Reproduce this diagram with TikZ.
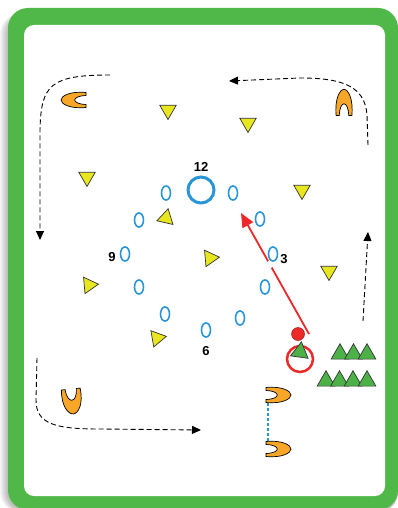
\documentclass[tikz,border=0pt]{standalone}
\usepackage{fontspec}
\setmainfont{Liberation Sans}
\usetikzlibrary{shapes.geometric,arrows.meta,calc}
\definecolor{frameG}{RGB}{80,184,72}
\definecolor{triY}{RGB}{232,230,30}
\definecolor{triG}{RGB}{76,178,72}
\definecolor{coneO}{RGB}{247,166,40}
\definecolor{ringB}{RGB}{40,150,214}
\definecolor{redR}{RGB}{236,40,40}
\tikzset{
  ytri/.style={regular polygon,regular polygon sides=3,draw=black!80,line width=0.7pt,fill=triY,minimum size=19pt,inner sep=0pt},
  gtri/.style={regular polygon,regular polygon sides=3,draw=black!80,line width=0.7pt,fill=triG,minimum size=20.5pt,inner sep=0pt},
  ring/.style={ellipse,draw=ringB,line width=1.6pt,minimum width=9pt,minimum height=14pt,inner sep=0pt},
  bigring/.style={circle,draw=ringB,line width=3pt,minimum size=26pt,inner sep=0pt},
  num/.style={font=\fontsize{13}{13}\selectfont\bfseries,inner sep=0pt},
  runpath/.style={draw=black,line width=0.9pt,dash pattern=on 5pt off 3pt,-{Triangle[length=9pt,width=8pt]}},
  pass/.style={draw=redR,line width=1.8pt,-{Triangle[length=14pt,width=12pt]}},
  link/.style={draw=ringB,line width=2.5pt,dash pattern=on 2.5pt off 2.5pt},
  shoe/.pic={\path[fill=coneO,draw=black,line width=0.7pt]
     (-12,-7.5) .. controls (4,-9) and (13,-4) .. (13,0) .. controls (13,4) and (4,9) .. (-12,7.5)
     -- (-12,4.5) .. controls (3,4) and (3,-4) .. (-12,-4.5) -- cycle;}
}
\begin{document}
\begin{tikzpicture}[x=1pt,y=-1pt]
\useasboundingbox (0,0) rectangle (398,508);
\clip (0,0) rectangle (398,508);
% shadow
\foreach \i in {1,...,8}{
  \fill[black,opacity=0.035,rounded corners=20pt] (8-\i,14) rectangle (398,512);
}
% frame
\fill[frameG,rounded corners=20pt] (8,8) rectangle (398,510);
\fill[white,rounded corners=10pt] (24,25) rectangle (385,496);

% rings
\node[num] (t12) at (201,167) {12};
\node[bigring] (r12) at (201,190) {};
\node[ring] (r1) at (233,193) {};
\node[ring] (r2) at (260,219) {};
\node[ring] (r3) at (273,254) {};
\node[ring] (r4) at (265,287) {};
\node[ring] (r5) at (240,318) {};
\node[ring] (r6) at (206,330) {};
\node[ring] (r7) at (165,314) {};
\node[ring] (r8) at (139,287) {};
\node[ring] (r9) at (125,254) {};
\node[ring] (r10) at (139,220) {};
\node[ring] (r11) at (166,193) {};
\node[num] (t9) at (112,257) {9};
\node[num] (t3) at (284,259) {3};
\node[num] (t6) at (206,351) {6};

% yellow triangles
\node[ytri,shape border rotate=180] (y1) at (168,110) {};
\node[ytri,shape border rotate=180] (y2) at (248,123) {};
\node[ytri,shape border rotate=180] (y3) at (87,177) {};
\node[ytri,shape border rotate=180] (y4) at (302,190) {};
\node[ytri,shape border rotate=180] (y5) at (329,271) {};
\node[ytri,rotate=-13] (y6) at (166,218) {};
\node[ytri,rotate=-85] (y7) at (210,258) {};
\node[ytri,rotate=-85] (y8) at (89,285) {};
\node[ytri,rotate=-80] (y9) at (157,338) {};

% cones
\pic (c1) at (74,100) [rotate=180] {shoe};
\pic (c2) at (344,103) [rotate=90,scale=1.05] {shoe};
\pic (c3) at (72,401) [rotate=-84,yscale=1.25] {shoe};
\pic (c4) at (278,395) {shoe};
\pic (c5) at (278,449) {shoe};
\coordinate (l1) at (268,403);
\coordinate (l2) at (268,441);
\draw[link] (l1) -- (l2);

% runs
\coordinate (a1) at (110,75);
\coordinate (a2) at (40,240);
\draw[runpath] (a1) .. controls (50,75) and (41,85) .. (40,130) -- (a2);
\coordinate (b1) at (368,145);
\coordinate (b2) at (229,81);
\draw[runpath] (b1) -- (367,115) .. controls (365,85) and (340,78) .. (300,78) -- (b2);
\coordinate (d1) at (363,321);
\coordinate (d2) at (368,232);
\draw[runpath] (d1) -- (d2);
\coordinate (e1) at (37,358);
\coordinate (e2) at (201,430);
\draw[runpath] (e1) -- (36,400) .. controls (36,424) and (55,429) .. (100,429) -- (e2);

% players
\node[circle,draw=redR,line width=2.5pt,minimum size=26pt,inner sep=0pt] (pc) at (300,359) {};
\node[gtri,rotate=-8] (gp) at (300,352) {};
\node[gtri] (g1) at (340,354) {};
\node[gtri] (g2) at (353.5,354) {};
\node[gtri] (g3) at (367,354) {};
\node[gtri] (g4) at (326,381) {};
\node[gtri] (g5) at (339.5,381) {};
\node[gtri] (g6) at (353,381) {};
\node[gtri] (g7) at (367,381) {};
\node[circle,fill=redR,draw=redR!70!black,line width=0.5pt,minimum size=13pt,inner sep=0pt] (ball) at (298,334) {};

% pass
\coordinate (ps) at (309,334);
\coordinate (pe) at (241,213);
\draw[pass] (ps) -- (pe);
\draw[white,line width=3pt] ($(ps)!0.55!(pe)$) -- ($(ps)!0.6!(pe)$);
\end{tikzpicture}
\end{document}
